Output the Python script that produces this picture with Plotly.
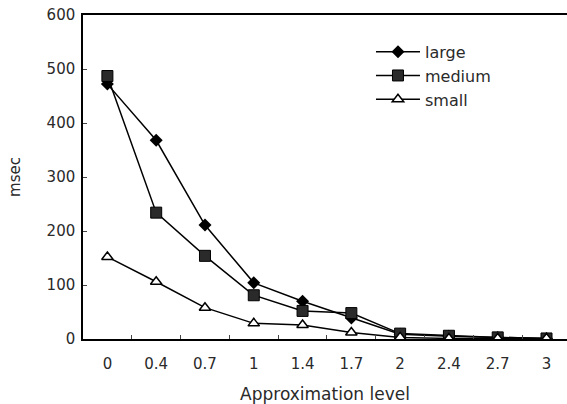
import plotly.graph_objects as go

levels = ["0", "0.4", "0.7", "1", "1.4", "1.7", "2", "2.4", "2.7", "3"]
large = [472, 368, 211, 104, 70, 39, 9, 5, 3, 1]
medium = [487, 234, 154, 81, 52, 48, 10, 6, 3, 1]
small = [152, 106, 58, 29, 26, 12, 3, 1, 1, 1]

fig = go.Figure()
line = dict(color="black", width=1.5)
fig.add_trace(go.Scatter(x=levels, y=large, name="large", mode="lines+markers",
                         line=line, marker=dict(symbol="diamond", size=10, color="black")))
fig.add_trace(go.Scatter(x=levels, y=medium, name="medium", mode="lines+markers",
                         line=line, marker=dict(symbol="square", size=11, color="#2a2a2a",
                                                line=dict(color="black", width=1))))
fig.add_trace(go.Scatter(x=levels, y=small, name="small", mode="lines+markers",
                         line=line, marker=dict(symbol="triangle-up", size=10, color="white",
                                                line=dict(color="black", width=1.5))))

font = dict(family="DejaVu Sans, sans-serif", size=15, color="#2a2a2a")
fig.update_layout(
    width=567, height=404,
    margin=dict(l=83, r=0, t=15, b=65, autoexpand=False),
    paper_bgcolor="white", plot_bgcolor="white",
    font=font,
    showlegend=True,
    legend=dict(x=0.595, y=0.939, xanchor="left", yanchor="top",
                bgcolor="rgba(0,0,0,0)", font=dict(size=16), tracegroupgap=0,
                itemwidth=44),
)
fig.update_xaxes(type="category", range=[-0.5, 9.42], showgrid=False, automargin=False,
                 showline=True, linecolor="black", linewidth=1.5, mirror=True,
                 ticks="inside", tickson="boundaries", ticklen=4, tickcolor="#444",
                 ticklabelstandoff=10,
                 title=dict(text="Approximation level", font=dict(size=17), standoff=16),
                 tickfont=dict(size=15), zeroline=False)
fig.update_yaxes(range=[0, 600], dtick=100, showgrid=False, automargin=False,
                 showline=True, linecolor="black", linewidth=1.5,
                 ticks="inside", ticklen=4, tickcolor="#444",
                 ticklabelstandoff=3,
                 title=dict(text="msec", font=dict(size=15), standoff=22),
                 tickfont=dict(size=15), zeroline=False)

fig.write_html("out.html", config={"displayModeBar": False},
               post_script="document.body.style.margin='0px';")
